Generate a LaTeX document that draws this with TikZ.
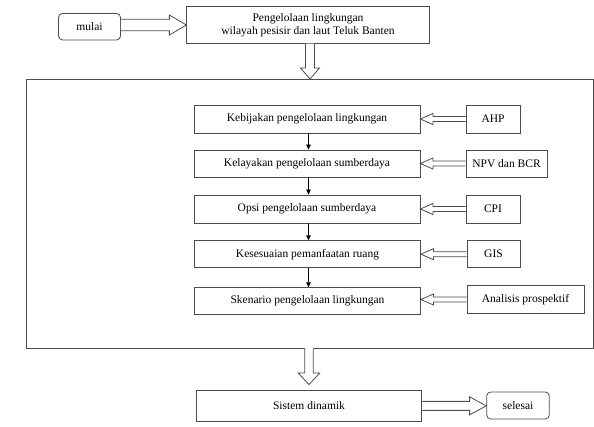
\documentclass[tikz,border=0pt]{standalone}
\usepackage{fontspec}
\setmainfont{Liberation Serif}
\usetikzlibrary{calc,arrows.meta}
\tikzset{
  box/.style={draw=black!70, line width=0.8pt, fill=white, inner sep=1pt, align=center,
    font=\fontsize{11.5}{13.5}\selectfont},
  rbox/.style={box, rounded corners=4pt},
  conn/.style={draw=black!70, line width=0.8pt, line join=miter},
  small/.style={draw=black, line width=0.7pt, -{Triangle[length=5pt,width=4.5pt]}}
}
% horizontal hollow arrow: from #1 to #2 (y of #1), shaft half width #3, head half width #4, head length #5
\newcommand\hArrowR[5]{%
  \path[fill=white] let \p1=(#1),\p2=(#2) in (\x1,\y1+#3) -- (\x2-#5,\y1+#3) -- (\x2-#5,\y1+#4) -- (\x2,\y1) -- (\x2-#5,\y1-#4) -- (\x2-#5,\y1-#3) -- (\x1,\y1-#3) -- cycle;
  \draw[conn] let \p1=(#1),\p2=(#2) in (\x1,\y1+#3) -- (\x2-#5,\y1+#3) -- (\x2-#5,\y1+#4) -- (\x2,\y1) -- (\x2-#5,\y1-#4) -- (\x2-#5,\y1-#3) -- (\x1,\y1-#3);}
\newcommand\hArrowL[5]{%
  \path[fill=white] let \p1=(#1),\p2=(#2) in (\x1,\y1+#3) -- (\x2+#5,\y1+#3) -- (\x2+#5,\y1+#4) -- (\x2,\y1) -- (\x2+#5,\y1-#4) -- (\x2+#5,\y1-#3) -- (\x1,\y1-#3) -- cycle;
  \draw[conn] let \p1=(#1),\p2=(#2) in (\x1,\y1+#3) -- (\x2+#5,\y1+#3) -- (\x2+#5,\y1+#4) -- (\x2,\y1) -- (\x2+#5,\y1-#4) -- (\x2+#5,\y1-#3) -- (\x1,\y1-#3);}
% vertical (downward) hollow arrow, #6 = extra fill behind the tail
\newcommand\hArrowD[6]{%
  \path[fill=white] let \p1=(#1),\p2=(#2) in (\x1-#3,\y1+#6) -- (\x1-#3,\y2+#5) -- (\x1-#4,\y2+#5) -- (\x1,\y2) -- (\x1+#4,\y2+#5) -- (\x1+#3,\y2+#5) -- (\x1+#3,\y1+#6) -- cycle;
  \draw[conn] let \p1=(#1),\p2=(#2) in (\x1-#3,\y1) -- (\x1-#3,\y2+#5) -- (\x1-#4,\y2+#5) -- (\x1,\y2) -- (\x1+#4,\y2+#5) -- (\x1+#3,\y2+#5) -- (\x1+#3,\y1);}
\begin{document}
\begin{tikzpicture}[x=1pt,y=-1pt]
\useasboundingbox (0,0) rectangle (594,426);

% outer frame
\node[draw=black!70, line width=0.8pt, minimum width=567pt, minimum height=269pt, inner sep=0pt] (frame) at (309.5,213.9) {};

% top part
\node[rbox, minimum width=62pt, minimum height=26.5pt] (mulai) at (89.5,26.7) {mulai};
\node[box, minimum width=242.5pt, minimum height=36.5pt] (top) at (308,25)
  {Pengelolaan lingkungan\\wilayah pesisir dan laut Teluk Banten};

% main chain
\node[box, minimum width=226pt, minimum height=28pt] (keb) at (307,119) {Kebijakan pengelolaan lingkungan};
\node[box, minimum width=226pt, minimum height=27pt] (kel) at (307,163.5) {Kelayakan pengelolaan sumberdaya};
\node[box, minimum width=226pt, minimum height=28pt] (ops) at (307,209) {Opsi pengelolaan sumberdaya};
\node[box, minimum width=226pt, minimum height=27pt] (kes) at (307.5,254.2) {Kesesuaian pemanfaatan ruang};
\node[box, minimum width=226pt, minimum height=26.6pt] (sken) at (307.5,301) {Skenario pengelolaan lingkungan};

% methods
\node[box, minimum width=54pt, minimum height=28pt] (ahp) at (493,119) {AHP};
\node[box, minimum width=81pt, minimum height=27pt] (npv) at (506.5,163.5) {NPV dan BCR};
\node[box, minimum width=54pt, minimum height=28pt] (cpi) at (493,209) {CPI};
\node[box, minimum width=53pt, minimum height=27pt] (gis) at (493.5,254.2) {GIS};
\node[box, minimum width=117pt, minimum height=27.6pt] (ana) at (525.5,299.5) {\raisebox{2.5pt}{Analisis prospektif}};

% bottom
\node[box, minimum width=225.7pt, minimum height=30.3pt] (sis) at (309,405.85) {Sistem dinamik};
\node[rbox, minimum width=62.6pt, minimum height=27pt] (sel) at (518,405.5) {selesai};

% coordinates for the big arrows
\coordinate (a1) at ($(top.south)+(2,0)$);
\coordinate (a2) at (frame.south -| sis.north);
\coordinate (a2e) at ($(sis.north)+(0,-5.7)$);

% hollow arrows
\hArrowR{mulai.east |- top.west}{top.west}{5.7pt}{10pt}{17pt}
\hArrowD{a1}{a1 |- frame.north}{4.5pt}{9.5pt}{11pt}{0pt}
\hArrowD{a2}{a2e}{4.2pt}{10.8pt}{11.7pt}{0.6pt}
\hArrowR{sis.east}{sel.west}{4.5pt}{9pt}{16.7pt}

\hArrowL{ahp.west}{keb.east}{2.5pt}{5.5pt}{12.5pt}
\hArrowL{npv.west}{kel.east}{2.5pt}{5.5pt}{12.5pt}
\hArrowL{cpi.west}{ops.east}{2.5pt}{5.5pt}{12.5pt}
\hArrowL{gis.west}{kes.east}{2.5pt}{5.5pt}{12.5pt}
\hArrowL{ana.west}{sken.east}{2.5pt}{5.5pt}{12.5pt}

% small arrows down the chain
\draw[small] ($(keb.south)+(1.5,0)$) -- ($(kel.north)+(1.5,0)$);
\draw[small] ($(kel.south)+(1.5,0)$) -- ($(ops.north)+(1.5,0)$);
\draw[small] ($(ops.south)+(1.5,0)$) -- ($(kes.north)+(1,0)$);
\draw[small] ($(kes.south)+(1,0)$) -- ($(sken.north)+(1,0)$);
\end{tikzpicture}
\end{document}
